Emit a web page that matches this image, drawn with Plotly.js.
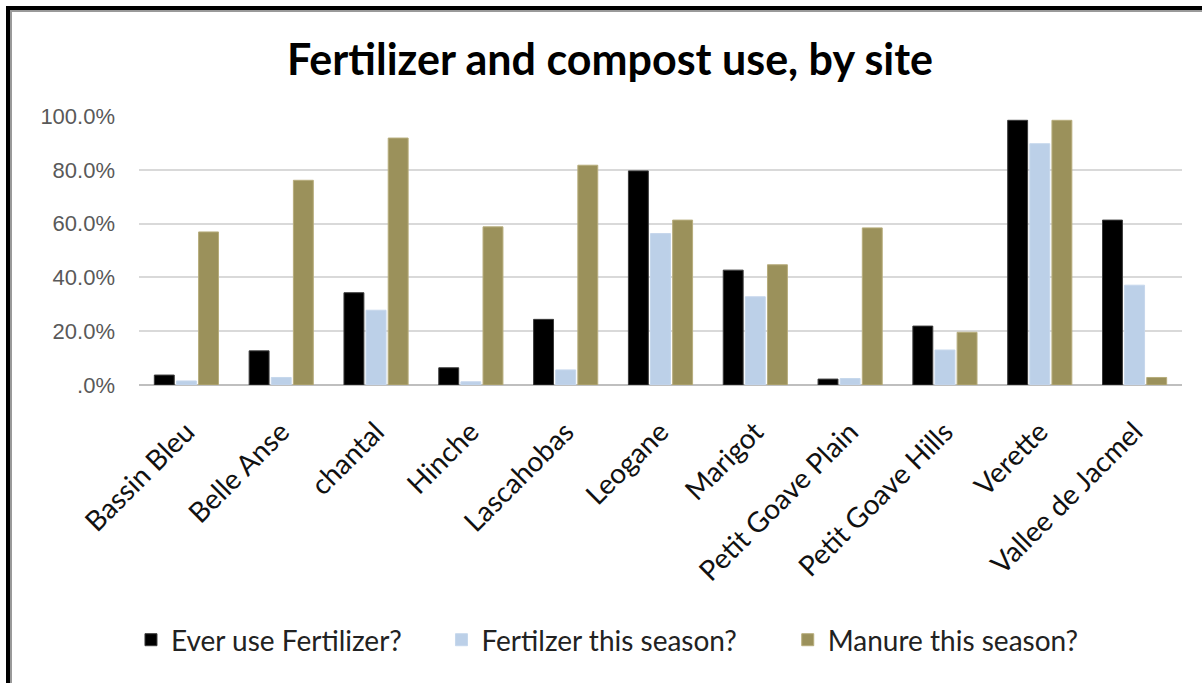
<!DOCTYPE html>
<html>
<head>
<meta charset="utf-8">
<script src="https://cdn.plot.ly/plotly-3.0.1.min.js"></script>
<style>
  html, body { margin: 0; padding: 0; background: #ffffff; }
  #wrap { position: relative; width: 1202px; height: 683px; overflow: hidden; }
  #chart { position: absolute; left: 0; top: 0; width: 1202px; height: 683px; }
  #frame { position: absolute; left: 6px; top: 6px; width: 1300px; height: 800px;
           border-top: 4px solid #000; border-left: 4px solid #000;
           box-shadow: inset 2px 2px 0 #9a9a9a; pointer-events: none; }
</style>
</head>
<body>
<div id="wrap">
  <div id="chart"></div>
  <div id="frame"></div>
</div>
<script>
const sites = ["Bassin Bleu", "Belle Anse", "chantal", "Hinche", "Lascahobas", "Leogane",
               "Marigot", "Petit Goave Plain", "Petit Goave Hills", "Verette", "Vallee de Jacmel"];
const everFertilizer = [0.037, 0.127, 0.343, 0.064, 0.244, 0.796, 0.427, 0.022, 0.219, 0.984, 0.613];
const fertilizerSeason = [0.015, 0.028, 0.278, 0.012, 0.056, 0.563, 0.328, 0.024, 0.130, 0.897, 0.371];
const manureSeason = [0.569, 0.761, 0.918, 0.588, 0.817, 0.613, 0.447, 0.584, 0.196, 0.984, 0.028];
const seriesNames = ["Ever use Fertilizer?", "Fertilzer this season?", "Manure this season?"];
const yTickVals = [0, 0.2, 0.4, 0.6, 0.8, 1.0];
const yTickText = [".0%", "20.0%", "40.0%", "60.0%", "80.0%", "100.0%"];

const traces = [
  { type: "bar", name: seriesNames[0], x: sites, y: everFertilizer, legend: "legend",
    marker: { color: "#000000", line: { color: "#3a3a3a", width: 1 } } },
  { type: "bar", name: seriesNames[1], x: sites, y: fertilizerSeason, legend: "legend2",
    marker: { color: "#bcd0e8", line: { color: "#c6d7ec", width: 1 } } },
  { type: "bar", name: seriesNames[2], x: sites, y: manureSeason, legend: "legend3",
    marker: { color: "#9b915b", line: { color: "#b7ad7c", width: 1 } } }
];

const legendFont = { family: "Lato, 'Open Sans', sans-serif", size: 28, color: "#222222" };
function legendAt(xp) {
  return { orientation: "h", x: xp, xanchor: "left", y: -0.948, yanchor: "middle",
           font: legendFont, bgcolor: "rgba(0,0,0,0)", itemclick: false, itemdoubleclick: false };
}

const layout = {
  width: 1202, height: 683,
  paper_bgcolor: "#ffffff", plot_bgcolor: "#ffffff",
  margin: { l: 139, r: 20, t: 116, b: 298 },
  barmode: "group", bargap: 0.30, bargroupgap: 0.1,
  showlegend: true,
  title: { text: "Fertilizer and compost use, by site",
           font: { family: "Lato, 'Open Sans', sans-serif", size: 43, color: "#000000", weight: "bold" },
           x: 0.5075, xref: "container", xanchor: "center",
           y: 0.912, yref: "container", yanchor: "middle" },
  xaxis: { type: "category", tickangle: -45, showgrid: false, zeroline: false,
           showline: false, ticks: "", ticklabelstandoff: 24,
           tickfont: { family: "Lato, 'Open Sans', sans-serif", size: 28, color: "#111111" } },
  yaxis: { range: [0, 1.0], tickvals: yTickVals, ticktext: yTickText,
           showgrid: true, gridcolor: "#d9d9d9", gridwidth: 2,
           zeroline: true, zerolinecolor: "#bfbfbf", zerolinewidth: 2,
           showline: false, ticks: "", ticklabelstandoff: 23,
           tickfont: { family: "'Liberation Sans', Arial, sans-serif", size: 22, color: "#595959" } },
  legend: legendAt(-0.0077),
  legend2: legendAt(0.290),
  legend3: legendAt(0.622)
};

Plotly.newPlot("chart", traces, layout, { displayModeBar: false, staticPlot: true });
</script>
</body>
</html>
